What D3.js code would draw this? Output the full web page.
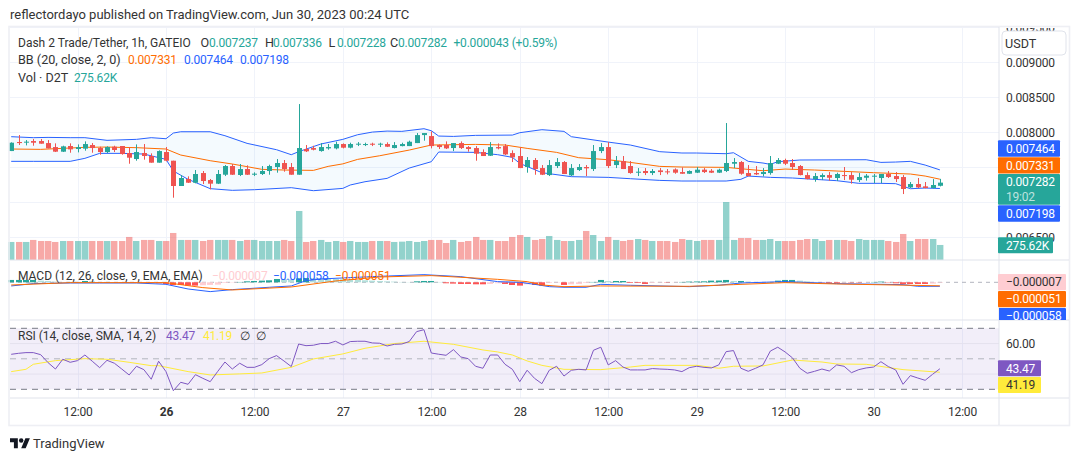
<!DOCTYPE html>
<html>
<head>
<meta charset="utf-8">
<script src="https://cdn.jsdelivr.net/npm/d3@7"></script>
<style>
  html, body { margin: 0; background: #fff; }
  svg { display: block; }
  text { font-family: Roboto, "Open Sans", sans-serif; font-size: 13px; }
  text.num { font-size: 12px; letter-spacing: -.2px; }
  text.small { font-size: 12px; }
  text.mid { font-size: 12.6px; }
</style>
</head>
<body>
<svg id="chart" width="1080" height="461"></svg>
<script>
// prices are in millionths of USDT, hours are counted from Jun 26 00:00
const firstHour = -21

const opens = [
  7733,7862,7857,7876,7876,7847,7790,7724,7805,7762,
  7767,7819,7776,7719,7795,7805,7705,7619,7705,7662,
  7567,7719,7595,7234,7334,7281,7419,7319,7267,7395,
  7519,7391,7476,7395,7405,7448,7505,7562,7505,7395,
  7762,7776,7733,7771,7771,7833,7781,7828,7819,7838,
  7828,7833,7776,7804,7804,7847,7961,7947,7819,7819,
  7776,7847,7790,7776,7719,7666,7790,7804,7704,7662,
  7505,7605,7490,7390,7519,7576,7386,7462,7505,7476,
  7733,7790,7533,7590,7519,7424,7448,7419,7457,7443,
  7471,7433,7409,7424,7467,7452,7424,7448,7552,7576,
  7419,7419,7405,7419,7552,7605,7562,7519,7390,7333,
  7362,7390,7348,7390,7390,7319,7352,7371,7348,7405,
  7376,7362,7214,7262,7229,7205,7237
]
const highs = [
  7857,7962,7890,7905,7905,7890,7843,7809,7843,7828,
  7871,7847,7795,7800,7809,7805,7790,7828,7833,7700,
  7743,7790,7595,7391,7372,7462,7448,7334,7462,7533,
  7548,7548,7529,7429,7519,7538,7619,7605,7562,8404,
  7819,7809,7847,7833,7867,7842,7852,7861,7852,7852,
  7852,7857,7861,7852,7881,7990,7990,8014,7828,7871,
  7847,7871,7804,7804,7757,7861,7842,7833,7743,7785,
  7647,7633,7533,7605,7633,7590,7547,7547,7533,7819,
  7847,7861,7662,7662,7590,7490,7490,7476,7490,7476,
  7486,7500,7457,7505,7490,7476,7481,8133,7633,7590,
  7533,7519,7490,7662,7633,7624,7619,7533,7429,7419,
  7414,7433,7424,7505,7433,7419,7405,7405,7405,7448,
  7433,7390,7291,7348,7291,7333,7336
]
const lows = [
  7733,7819,7814,7809,7838,7771,7719,7719,7709,7714,
  7738,7709,7681,7705,7719,7681,7552,7595,7610,7567,
  7567,7586,7067,7234,7277,7272,7262,7186,7262,7376,
  7391,7376,7391,7376,7391,7395,7424,7438,7395,7395,
  7719,7743,7724,7752,7757,7771,7771,7804,7804,7804,
  7790,7790,7771,7800,7804,7847,7881,7771,7762,7762,
  7733,7762,7724,7595,7662,7662,7757,7676,7576,7490,
  7424,7395,7390,7376,7490,7405,7376,7448,7376,7448,
  7704,7490,7490,7476,7409,7376,7390,7390,7390,7400,
  7409,7409,7405,7419,7419,7419,7419,7433,7490,7395,
  7371,7390,7371,7395,7547,7533,7467,7386,7329,7295,
  7319,7310,7305,7319,7267,7291,7310,7276,7276,7348,
  7291,7119,7205,7205,7200,7200,7228
]
const closes = [
  7852,7847,7867,7852,7838,7771,7724,7800,7757,7790,
  7833,7776,7719,7790,7748,7690,7638,7719,7662,7567,
  7733,7595,7234,7348,7281,7405,7305,7267,7405,7519,
  7395,7476,7395,7410,7448,7519,7562,7476,7395,7776,
  7729,7752,7790,7790,7833,7781,7833,7838,7833,7823,
  7838,7795,7819,7833,7866,7961,7990,7804,7790,7771,
  7847,7776,7762,7695,7662,7790,7771,7685,7643,7490,
  7605,7476,7395,7533,7576,7405,7490,7505,7486,7733,
  7790,7519,7590,7476,7419,7438,7419,7448,7433,7433,
  7424,7409,7448,7467,7433,7424,7467,7562,7576,7409,
  7376,7400,7433,7562,7605,7552,7505,7390,7333,7376,
  7390,7352,7405,7381,7324,7362,7381,7381,7405,7362,
  7333,7191,7262,7214,7205,7248,7282
]
// thousands of D2T
const volumes = [
  331,331,331,368,349,349,331,349,349,349,
  349,349,349,349,349,349,423,349,368,368,
  349,349,496,368,368,368,349,368,368,368,
  368,349,368,368,349,349,349,368,349,900,
  331,349,368,331,349,331,349,331,331,349,
  349,349,331,337,349,331,349,368,368,312,
  368,331,349,423,368,368,349,349,423,459,
  423,368,386,441,368,349,349,368,533,459,
  349,423,368,349,368,386,368,349,349,349,
  331,386,368,349,368,368,368,1065,368,404,
  404,368,368,386,349,349,349,368,386,386,
  349,368,368,368,349,386,368,368,368,349,
  331,478,349,386,386,386,276
]
const macdHist = [
  34,34,34,34,24,19,10,5,5,5,
  19,14,5,5,3,-5,-5,-5,-5,-10,
  -14,-24,-39,-39,-48,-48,-43,-38,-34,-10,
  -5,5,14,19,24,29,48,46,44,58,
  62,60,58,53,48,43,38,34,29,24,
  19,14,10,5,3,14,19,19,5,-14,
  -19,-24,-24,-29,-29,-24,-14,-24,-39,-48,
  -29,-39,-48,-10,-5,-38,-29,-24,-10,5,
  34,19,19,19,-10,-10,-24,-10,-5,-5,
  -3,5,10,12,14,24,26,34,19,19,
  10,5,3,5,24,34,34,24,14,5,
  -5,-10,-14,-5,-5,-5,-3,5,10,-5,
  -14,-24,-24,-24,-24,-19,-7
]
const rsi = [
  52.95,53.6,54.05,54.05,52.7,47.5,43.3,49.7,47.7,48.8,
  52.5,48.4,44.2,49.0,47.1,43.3,39.4,45.1,42.9,36.6,
  48.4,41.6,29.1,34.6,33.3,39.6,37.2,35.0,41.6,47.9,
  43.3,47.1,44.4,44.4,46.2,50.1,52.1,48.6,44.9,59.7,
  58.6,58.9,60.0,60.0,61.5,59.1,61.3,61.5,61.5,60.4,
  60.2,58.4,59.5,59.7,61.3,67.8,69.1,53.8,53.0,52.3,
  56.0,51.2,50.1,45.1,43.8,52.5,52.5,46.4,43.1,35.0,
  42.5,37.2,33.7,42.5,45.1,38.7,42.5,43.1,42.7,55.6,
  57.6,46.0,48.8,44.6,42.7,42.7,42.7,43.6,43.3,43.1,
  42.7,41.6,44.2,45.1,44.4,44.0,46.0,54.7,55.4,43.8,
  41.8,43.8,46.0,55.1,57.6,54.5,50.6,43.8,40.5,41.8,
  43.3,42.0,46.0,45.1,40.9,42.9,44.0,44.6,48.1,44.9,
  42.7,33.3,39.0,37.4,35.9,39.8,43.47
]

// the smooth indicator lines, read where they bend
const bbUpperHours = [-21,-18,-16,-13,-11,-8,-4,-2,0,1,2,6,8,11,15,17,18,21,24,26,28,30,32,35,36,37,39,42,47,48,51,54,55,60,63,67,70,72,76,77,79,81,82,83,86,95,97,99,101,103,105]
const bbUpper = [7938,7924,7928,7924,7924,7886,7900,7924,7909,7990,8009,8009,7952,7843,7752,7681,7724,7833,7900,7966,8004,8018,8014,8052,8023,7947,7942,7957,7961,7995,8038,8014,7938,7861,7819,7724,7705,7705,7695,7709,7586,7562,7543,7581,7605,7609,7571,7576,7586,7533,7464]
const bbLowerHours = [-21,-18,-13,-11,-9,-6,-3,0,1,3,6,9,12,17,20,24,25,27,30,33,36,37,42,45,47,48,51,55,60,63,67,70,72,76,78,79,82,85,91,94,97,99,101,103,105]
const bbLower = [7586,7586,7586,7629,7700,7700,7690,7614,7448,7329,7196,7172,7181,7210,7167,7200,7248,7295,7343,7490,7581,7719,7714,7681,7643,7557,7424,7367,7357,7338,7314,7305,7305,7305,7329,7376,7357,7348,7310,7272,7272,7267,7195,7205,7198]
const bbMiddleHours = [-21,-17,-11,-8,-4,0,2,6,9,13,16,20,22,24,26,29,33,36,42,46,49,53,56,60,63,67,70,76,79,81,84,88,96,101,103,105]
const bbMiddle = [7762,7757,7786,7790,7781,7762,7676,7595,7548,7472,7462,7457,7514,7550,7614,7666,7747,7819,7828,7819,7771,7714,7638,7609,7571,7514,7505,7500,7471,7452,7476,7462,7424,7405,7376,7331]
const macdHours = [-21,-18,-13,-9,-4,0,3,6,9,14,17,19,21,25,29,35,40,45,48,50,52,54,57,59,63,71,75,78,84,91,100,102,105]
const macdLine = [-53,-19,-10,-10,-10,-29,-97,-135,-106,-72,-53,24,48,68,87,111,82,10,0,-29,-63,-72,-72,-29,-43,-63,-43,-10,10,-19,-34,-58,-58]
const signalHours = [-21,-13,0,5,9,17,23,29,36,45,49,51,54,59,71,77,84,91,105]
const signalLine = [-39,-5,-5,-77,-111,-68,19,77,97,43,10,-39,-63,-53,-58,-34,-5,-24,-51]
const rsiMaHours = [-21,-19,-18,-15,-11,-8,-5,-2,-1,3,6,10,13,17,20,24,27,31,35,39,43,45,47,49,51,54,59,63,65,72,75,77,81,85,89,91,95,100,105]
const rsiMa = [41.6,43.1,46.4,48.8,50.1,49.7,47.7,45.5,45.5,41.6,39.4,40.1,40.7,44.4,49.9,53.2,56.9,60.0,61.5,59.5,55.8,54.5,52.5,48.6,45.7,43.1,42.9,44.6,45.7,45.7,43.8,45.1,45.3,49.2,47.9,46.6,46.4,42.9,41.19]

const priceTicks = [9500,9000,8500,8000,6500]
const gridPrices = [9500,9000,8500,8000,7500,7000,6500]
const timeTicks = [-12,0,12,24,36,48,60,72,84,96,108]
const timeLabels = ['12:00','26','12:00','27','12:00','28','12:00','29','12:00','30','12:00']
const rsiGrid = [60,40]

const UP = '#26a69a', DOWN = '#ef5350', BLUE = '#2962ff', ORANGE = '#ff6d00', PURPLE = '#7e57c2', YELLOW = '#ffeb3b'
const LEFT = 10, RIGHT = 999, OUTER = 1069, TOP = 27, MAIN_BOTTOM = 260, MACD_BOTTOM = 320, RSI_BOTTOM = 398, BOTTOM = 425

const svg = d3.select('#chart')
const x = d3.scaleLinear().domain([-21, 108]).range([11.2, 962])
const yPrice = d3.scaleLinear().domain([9500, 6500]).range([27.3, 237.4])
const yVol = d3.scaleLinear().domain([0, 1065]).range([MAIN_BOTTOM, 202])
const yMacd = d3.scaleLinear().domain([-200, 200]).range([296.1, 268.5])
const yRsi = d3.scaleLinear().domain([30, 70]).range([389.3, 328.3])

const candles = opens.map((o, i) => ({ hour: firstHour + i, o, h: highs[i], l: lows[i], c: closes[i], vol: volumes[i], hist: macdHist[i], prev: i ? macdHist[i - 1] : macdHist[i] }))
const px = v => Math.round(x(v))
const pairs = (hours, vals) => hours.map((h, i) => [h, vals[i]])

// grid
svg.append('g').selectAll('line').data(timeTicks).join('line')
  .attr('x1', d => px(d) + .5).attr('x2', d => px(d) + .5).attr('y1', TOP).attr('y2', RSI_BOTTOM)
  .attr('stroke', '#f0f3fa')
svg.append('g').selectAll('line').data(gridPrices).join('line')
  .attr('x1', LEFT).attr('x2', RIGHT).attr('y1', d => Math.round(yPrice(d)) + .5).attr('y2', d => Math.round(yPrice(d)) + .5)
  .attr('stroke', '#f0f3fa')

// volume
svg.append('g').selectAll('rect').data(candles).join('rect')
  .attr('x', d => px(d.hour) - 3).attr('width', 6.4)
  .attr('y', d => yVol(d.vol)).attr('height', d => MAIN_BOTTOM - yVol(d.vol))
  .attr('fill', d => d.c >= d.o ? UP : DOWN).attr('opacity', .5)

// bollinger bands
const priceLine = d3.line().x(d => x(d[0])).y(d => yPrice(d[1]))
const upperPts = pairs(bbUpperHours, bbUpper), lowerPts = pairs(bbLowerHours, bbLower), midPts = pairs(bbMiddleHours, bbMiddle)
svg.append('path').attr('d', priceLine(upperPts.concat(lowerPts.slice().reverse())) + 'Z')
  .attr('fill', '#2196f3').attr('fill-opacity', .05)
svg.append('path').attr('d', priceLine(upperPts)).attr('fill', 'none').attr('stroke', BLUE)
svg.append('path').attr('d', priceLine(lowerPts)).attr('fill', 'none').attr('stroke', BLUE)
svg.append('path').attr('d', priceLine(midPts)).attr('fill', 'none').attr('stroke', ORANGE)

// candles
const candle = svg.append('g').selectAll('g').data(candles).join('g')
candle.append('line')
  .attr('x1', d => px(d.hour) + .5).attr('x2', d => px(d.hour) + .5)
  .attr('y1', d => yPrice(d.h)).attr('y2', d => yPrice(d.l))
  .attr('stroke', d => d.c >= d.o ? UP : DOWN)
candle.append('rect')
  .attr('x', d => px(d.hour) - 2).attr('width', 5)
  .attr('y', d => yPrice(Math.max(d.o, d.c)))
  .attr('height', d => Math.max(1, Math.abs(yPrice(d.o) - yPrice(d.c))))
  .attr('fill', d => d.c >= d.o ? UP : DOWN)

// macd
svg.append('line').attr('x1', LEFT).attr('x2', RIGHT).attr('y1', yMacd(0)).attr('y2', yMacd(0))
  .attr('stroke', '#b2b5be').attr('stroke-dasharray', '4 4')
const histColor = d => d.hist >= 0 ? (d.hist >= d.prev ? UP : '#b2dfdb') : (d.hist <= d.prev ? '#ff5252' : '#ffcdd2')
svg.append('g').selectAll('rect').data(candles).join('rect')
  .attr('x', d => px(d.hour) - 3).attr('width', 6)
  .attr('y', d => Math.min(yMacd(0), yMacd(d.hist)))
  .attr('height', d => Math.abs(yMacd(d.hist) - yMacd(0)))
  .attr('fill', histColor)
const macdPath = d3.line().x(d => x(d[0])).y(d => yMacd(d[1]))
svg.append('path').attr('d', macdPath(pairs(macdHours, macdLine))).attr('fill', 'none').attr('stroke', BLUE)
svg.append('path').attr('d', macdPath(pairs(signalHours, signalLine))).attr('fill', 'none').attr('stroke', ORANGE)

// rsi
svg.append('rect').attr('x', LEFT).attr('width', RIGHT - LEFT).attr('y', yRsi(70)).attr('height', yRsi(30) - yRsi(70))
  .attr('fill', PURPLE).attr('fill-opacity', .1)
svg.append('g').selectAll('line').data(rsiGrid).join('line')
  .attr('x1', LEFT).attr('x2', RIGHT).attr('y1', d => yRsi(d)).attr('y2', d => yRsi(d)).attr('stroke', '#e4e1ee')
svg.append('g').selectAll('line').data([70, 50, 30]).join('line')
  .attr('x1', LEFT).attr('x2', RIGHT).attr('y1', d => yRsi(d)).attr('y2', d => yRsi(d))
  .attr('stroke', d => d === 50 ? '#b2b5be' : '#787b86').attr('stroke-dasharray', '6 5')
const rsiPath = d3.line().x(d => x(d[0])).y(d => yRsi(d[1]))
svg.append('path').attr('d', rsiPath(pairs(rsiMaHours, rsiMa))).attr('fill', 'none').attr('stroke', YELLOW)
svg.append('path').attr('d', rsiPath(candles.map((d, i) => [d.hour, rsi[i]]))).attr('fill', 'none').attr('stroke', PURPLE)

// frame
const frame = svg.append('g').attr('fill', 'none').attr('stroke', '#e0e3eb')
frame.append('rect').attr('x', 9).attr('y', TOP - .5).attr('width', OUTER - 9 + .5).attr('height', BOTTOM - TOP + 1).attr('stroke-width', 1.6).attr('stroke', '#eeeff4')
frame.append('line').attr('x1', RIGHT).attr('x2', RIGHT).attr('y1', TOP).attr('y2', BOTTOM)
;[MAIN_BOTTOM, MACD_BOTTOM, RSI_BOTTOM].forEach(y => {
  frame.append('line').attr('x1', LEFT).attr('x2', OUTER).attr('y1', y).attr('y2', y)
})

// axes
svg.append('clipPath').attr('id', 'axisClip').append('rect').attr('x', RIGHT).attr('y', TOP + 1).attr('width', 70).attr('height', MAIN_BOTTOM - TOP)
const priceAxis = svg.append('g').attr('clip-path', 'url(#axisClip)').append('g').attr('transform', `translate(${RIGHT},0)`)
  .call(d3.axisRight(yPrice).tickValues(priceTicks).tickSize(0).tickPadding(7).tickFormat(d => (d / 1e6).toFixed(6)))
const rsiAxis = svg.append('g').attr('transform', `translate(${RIGHT},0)`)
  .call(d3.axisRight(yRsi).tickValues([60]).tickSize(0).tickPadding(7).tickFormat(d3.format('.2f')))
const timeAxis = svg.append('g').attr('transform', `translate(0,${RSI_BOTTOM + 2})`)
  .call(d3.axisBottom(x).tickValues(timeTicks).tickSize(0).tickPadding(7.5).tickFormat((d, i) => timeLabels[i]))
;[priceAxis, rsiAxis, timeAxis].forEach(a => {
  a.select('.domain').remove()
  a.selectAll('text').attr('class', 'num').attr('fill', '#333').style('font-family', 'Roboto, sans-serif')
})
timeAxis.selectAll('text').filter(d => d === 0).style('font-weight', 700)

// currency box
svg.append('rect').attr('x', 1002).attr('y', 31).attr('width', 64).attr('height', 24).attr('rx', 4)
  .attr('fill', '#fff').attr('stroke', '#e0e3eb')
svg.append('text').attr('x', 1005).attr('y', 47.5).attr('class', 'mid').attr('fill', '#333').text('USDT')

// last-value tags
const tags = [
  { y: 140.3, h: 16.4, w: 62, fill: BLUE, text: '0.007464', color: '#fff' },
  { y: 157.3, h: 16.2, w: 62, fill: ORANGE, text: '0.007331', color: '#fff' },
  { y: 174, h: 30.7, w: 62, fill: UP, text: '0.007282', color: '#fff' },
  { y: 205.3, h: 16.4, w: 62, fill: BLUE, text: '0.007198', color: '#fff' },
  { y: 237.3, h: 16, w: 55, fill: UP, text: '275.62K', color: '#fff' },
  { y: 274, h: 16.3, w: 68, fill: '#ffcdd2', text: '\u22120.000007', color: '#333' },
  { y: 291, h: 16.3, w: 68, fill: ORANGE, text: '\u22120.000051', color: '#fff' },
  { y: 308, h: 11.4, w: 68, fill: BLUE, text: '\u22120.000058', color: '#fff', clip: true },
  { y: 360.3, h: 16, w: 43, fill: PURPLE, text: '43.47', color: '#fff' },
  { y: 377, h: 16, w: 43, fill: YELLOW, text: '41.19', color: '#333' }
]
svg.append('clipPath').attr('id', 'macdClip').append('rect').attr('x', RIGHT).attr('y', MAIN_BOTTOM).attr('width', 70).attr('height', MACD_BOTTOM - MAIN_BOTTOM)
const tag = svg.append('g').selectAll('g').data(tags).join('g').attr('clip-path', d => d.clip ? 'url(#macdClip)' : null)
tag.append('rect').attr('x', 998).attr('y', d => d.y).attr('width', d => d.w).attr('height', d => d.clip ? 16 : d.h).attr('rx', 1).attr('fill', d => d.fill)
tag.append('text').attr('class', 'num').attr('x', 1006).attr('y', d => d.y + 12.4).attr('fill', d => d.color).text(d => d.text)
svg.append('text').attr('class', 'num').attr('x', 1006).attr('y', 201).attr('fill', '#fff').attr('fill-opacity', .7).text('19:02')

// legends
const legend = [
  ['reflectordayo published on TradingView.com, Jun 30, 2023 00:24 UTC', 10, 19, '#333'],
  ['Dash 2 Trade/Tether, 1h, GATEIO', 18, 46.5, '#333', 'small'],
  ['O', 200.5, 46.5, '#333', 'mid'], ['0.007237', 209, 46.5, UP, 'num'],
  ['H', 265, 46.5, '#333', 'mid'], ['0.007336', 273, 46.5, UP, 'num'],
  ['L', 328.5, 46.5, '#333', 'mid'], ['0.007228', 337, 46.5, UP, 'num'],
  ['C', 390, 46.5, '#333', 'mid'], ['0.007282', 398, 46.5, UP, 'num'],
  ['+0.000043 (+0.59%)', 453.5, 46.5, UP, 'num'],
  ['BB (20, close, 2, 0)', 18, 64, '#333', 'mid'], ['0.007331', 128, 64, ORANGE, 'num'], ['0.007464', 184, 64, BLUE, 'num'], ['0.007198', 240, 64, BLUE, 'num'],
  ['Vol \u00b7 D2T', 18, 81.5, '#333', 'mid'], ['275.62K', 74, 81.5, UP, 'num'],
  ['MACD (12, 26, close, 9, EMA, EMA)', 18, 280, '#333', 'small'], ['\u22120.000007', 212, 280, '#ffcdd2', 'num'], ['\u22120.000058', 273, 280, BLUE, 'num'], ['\u22120.000051', 335, 280, ORANGE, 'num'],
  ['RSI (14, close, SMA, 14, 2)', 18, 339.5, '#333', 'small'], ['43.47', 166, 339.5, PURPLE, 'num'], ['41.19', 203, 339.5, YELLOW, 'num'], ['\u2205', 240, 339.5, '#333', 'num'], ['\u2205', 256, 339.5, '#333', 'num'],
  ['TradingView', 33, 448, '#333']
]
svg.append('g').selectAll('text').data(legend).join('text')
  .attr('class', d => d[4] || null)
  .attr('x', d => d[1]).attr('y', d => d[2]).attr('fill', d => d[3]).text(d => d[0])

// logo
const logo = svg.append('g').attr('transform', 'translate(10,436) scale(.56)').attr('fill', '#131722')
logo.append('path').attr('d', 'M14 22H7V11H0V4h14v18zM28 22h-8l7.5-18h8L28 22z')
logo.append('circle').attr('cx', 20).attr('cy', 8).attr('r', 4)
</script>
</body>
</html>
